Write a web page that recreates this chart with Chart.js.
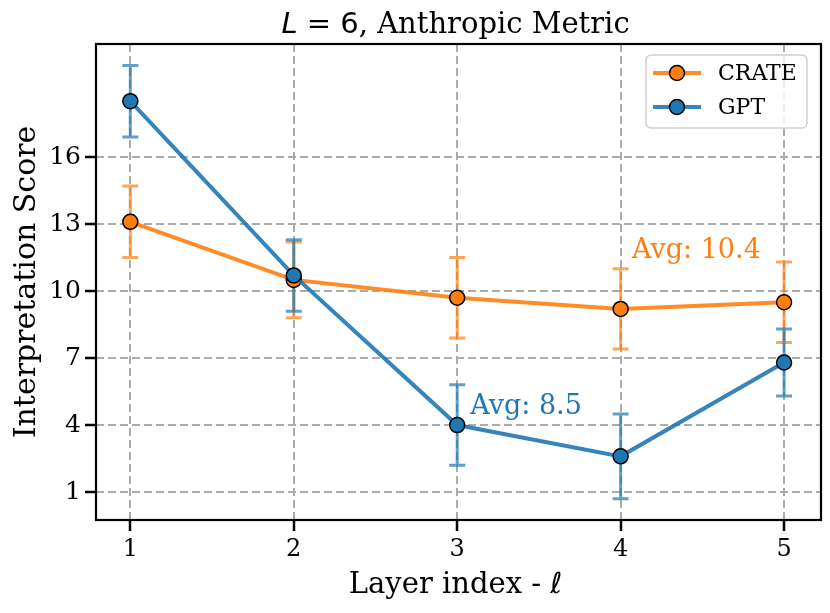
<!DOCTYPE html>
<html>
<head>
<meta charset="utf-8">
<script src="https://cdn.jsdelivr.net/npm/chart.js@4.4.1/dist/chart.umd.min.js"></script>
<style>
	html, body { margin: 0; padding: 0; background: #fff; }
	#wrap { width: 830px; height: 613px; position: relative; }
</style>
</head>
<body>
<div id="wrap"><canvas id="chart"></canvas></div>
<script>
// data
var layers = [1, 2, 3, 4, 5];
var crateScore = [13.1, 10.5, 9.7, 9.2, 9.5];
var crateErr = [1.6, 1.7, 1.8, 1.8, 1.8];
var gptScore = [18.5, 10.7, 4.0, 2.6, 6.8];
var gptErr = [1.6, 1.6, 1.8, 1.9, 1.5];
var yTicks = [1, 4, 7, 10, 13, 16];

var SERIF = "'DejaVu Serif', serif";
var ORANGE = '#ff7f0e';
var BLUE = '#1f77b4';

function avg(arr) {
	var s = 0;
	for (var i = 0; i < arr.length; i++) s += arr[i];
	return s / arr.length;
}

// where the "Avg" notes sit, in data units
var notes = [
	{ text: 'Avg: ' + avg(crateScore).toFixed(1), x: 4.07, y: 11.48, color: ORANGE },
	{ text: 'Avg: ' + avg(gptScore).toFixed(1), x: 3.08, y: 4.49, color: BLUE }
];

// draw a run of differently styled pieces centred on cx
function drawRun(ctx, parts, cx, baseY) {
	var total = 0;
	parts.forEach(function(p) { ctx.font = p.f; p.w = ctx.measureText(p.t).width; total += p.w; });
	var tx = cx - total / 2;
	parts.forEach(function(p) { ctx.font = p.f; ctx.fillText(p.t, tx, baseY); tx += p.w; });
}

var extras = {
	id: 'extras',
	beforeDatasetsDraw: function(chart) {
		var ctx = chart.ctx;
		var xs = chart.scales.x, ys = chart.scales.y;
		chart.data.datasets.forEach(function(ds) {
			ctx.save();
			ctx.strokeStyle = ds.errColor;
			ctx.lineWidth = 3;
			for (var i = 0; i < ds.data.length; i++) {
				var px = xs.getPixelForValue(ds.data[i].x);
				var lo = ys.getPixelForValue(ds.data[i].y - ds.err[i]);
				var hi = ys.getPixelForValue(ds.data[i].y + ds.err[i]);
				ctx.beginPath();
				ctx.moveTo(px, lo); ctx.lineTo(px, hi);
				ctx.moveTo(px - 8, lo); ctx.lineTo(px + 8, lo);
				ctx.moveTo(px - 8, hi); ctx.lineTo(px + 8, hi);
				ctx.stroke();
			}
			ctx.restore();
		});
	},
	afterDraw: function(chart) {
		var ctx = chart.ctx;
		var a = chart.chartArea;
		var xs = chart.scales.x, ys = chart.scales.y;
		var cx = (a.left + a.right) / 2;
		ctx.save();

		// frame
		ctx.strokeStyle = '#000';
		ctx.lineWidth = 2.2;
		ctx.strokeRect(a.left, a.top, a.right - a.left, a.bottom - a.top);

		// notes
		ctx.font = '27px ' + SERIF;
		ctx.textBaseline = 'alphabetic';
		ctx.textAlign = 'left';
		notes.forEach(function(n) {
			ctx.fillStyle = n.color;
			ctx.fillText(n.text, xs.getPixelForValue(n.x), ys.getPixelForValue(n.y));
		});

		// title: math part in sans italic, rest in serif
		ctx.fillStyle = '#000';
		drawRun(ctx, [
			{ t: 'L', f: 'italic 29px "DejaVu Sans"' },
			{ t: ' = 6', f: '29px "DejaVu Sans"' },
			{ t: ', Anthropic Metric', f: '29px ' + SERIF }
		], cx - 3, 33);

		// x axis title with an italic ell
		drawRun(ctx, [
			{ t: 'Layer index - ', f: '29px ' + SERIF },
			{ t: '\u2113', f: 'italic 29px "DejaVu Sans"' }
		], cx - 3, 593);

		// legend
		var bx = 646, by = 55, bw = 161, bh = 73;
		ctx.beginPath();
		ctx.roundRect(bx, by, bw, bh, 5);
		ctx.fillStyle = 'rgba(255,255,255,0.8)';
		ctx.fill();
		ctx.strokeStyle = '#d0d0d0';
		ctx.lineWidth = 1.5;
		ctx.stroke();
		var rows = [chart.data.datasets[0], chart.data.datasets[1]];
		rows.forEach(function(ds, i) {
			var ry = 73 + i * 34;
			ctx.strokeStyle = ds.borderColor;
			ctx.lineWidth = 4;
			ctx.beginPath(); ctx.moveTo(653, ry); ctx.lineTo(701, ry); ctx.stroke();
			ctx.beginPath(); ctx.arc(677, ry, 7.5, 0, Math.PI * 2);
			ctx.fillStyle = ds.pointBackgroundColor; ctx.fill();
			ctx.lineWidth = 1.5; ctx.strokeStyle = '#000'; ctx.stroke();
			ctx.fillStyle = '#000';
			ctx.font = '22px ' + SERIF;
			ctx.textBaseline = 'middle';
			ctx.fillText(ds.label, 718, ry + 1);
		});
		ctx.restore();
	}
};

function pts(ys) {
	return layers.map(function(x, i) { return { x: x, y: ys[i] }; });
}

var chart = new Chart(document.getElementById('chart'), {
	type: 'line',
	data: {
		datasets: [{
			label: 'CRATE',
			data: pts(crateScore),
			err: crateErr,
			order: 1,
			borderColor: 'rgba(255,127,14,0.9)',
			errColor: 'rgba(255,127,14,0.7)',
			borderWidth: 4,
			pointRadius: 7.5,
			pointBackgroundColor: ORANGE,
			pointBorderColor: '#000',
			pointBorderWidth: 1.5,
			tension: 0
		}, {
			label: 'GPT',
			data: pts(gptScore),
			err: gptErr,
			order: 0,
			borderColor: 'rgba(31,119,180,0.9)',
			errColor: 'rgba(31,119,180,0.7)',
			borderWidth: 4,
			pointRadius: 7.5,
			pointBackgroundColor: BLUE,
			pointBorderColor: '#000',
			pointBorderWidth: 1.5,
			tension: 0
		}]
	},
	options: {
		responsive: true,
		maintainAspectRatio: false,
		animation: false,
		layout: { padding: { top: 44, right: 8, left: 0, bottom: 0 } },
		plugins: {
			legend: { display: false },
			tooltip: { enabled: false },
			title: { display: false }
		},
		scales: {
			x: {
				type: 'linear',
				min: 0.79,
				max: 5.226,
				afterBuildTicks: function(scale) {
					scale.ticks = layers.map(function(v) { return { value: v }; });
				},
				afterFit: function(scale) { scale.height = 93; },
				grid: { color: '#ababab', lineWidth: 2, tickLength: 11, tickWidth: 2.5, tickColor: '#000' },
				border: { display: false, dash: [8, 4] },
				ticks: { color: '#000', padding: 4, maxRotation: 0, font: { family: SERIF, size: 24 } },
				title: { display: false }
			},
			y: {
				type: 'linear',
				min: -0.25,
				max: 21.06,
				afterBuildTicks: function(scale) {
					scale.ticks = yTicks.map(function(v) { return { value: v }; });
				},
				afterFit: function(scale) { scale.width = 96; },
				grid: { color: '#ababab', lineWidth: 2, tickLength: 11, tickWidth: 2.5, tickColor: '#000' },
				border: { display: false, dash: [8, 4] },
				ticks: { color: '#000', padding: 4, font: { family: SERIF, size: 25 } },
				title: { display: true, text: 'Interpretation Score', color: '#000', padding: { top: 9, bottom: 0 }, font: { family: SERIF, size: 30 } }
			}
		}
	},
	plugins: [extras]
});
</script>
</body>
</html>
